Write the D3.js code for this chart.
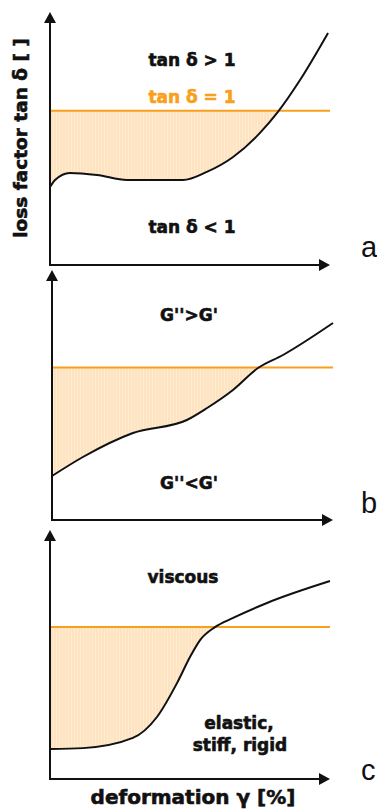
<!DOCTYPE html>
<html>
<head>
<meta charset="utf-8">
<script src="https://cdn.jsdelivr.net/npm/d3@7"></script>
<style>
  html, body { margin: 0; padding: 0; background: #fff; }
  svg { display: block; }
</style>
</head>
<body>
<div id="chart"></div>
<script>
// ---------- data ----------
const panelIds = ["a", "b", "c"];
const thresholdValue = 61;           // tan δ = 1 level (relative units)
const curveA = [[0,30.8],[1.8,33.6],[7.1,36.4],[16.8,35.6],[27.5,33.6],[47.5,33.6],[56,36.8],[65.4,42.7],[75,52.2],[81.4,60.5],[89.3,73.1],[99.3,91.7]];
const curveB = [[0,17.6],[11,25.2],[28.8,34.8],[48,40],[55.2,44.8],[64.4,52],[73.3,60.8],[82.2,66],[100,78.8]];
const curveC = [[0,12],[11.8,12.4],[29.6,16.5],[38.2,24.9],[45.4,38.6],[50,49],[53.6,55.8],[58.9,61],[65.4,64.7],[77.5,70.7],[100,79.5]];
const upperTexts = ["tan δ > 1", "G''>G'", "viscous"];
const lowerTexts = [["tan δ < 1"], ["G''<G'"], ["elastic,", "stiff, rigid"]];
const thresholdText = "tan δ = 1";
const yAxisTitle = "loss factor tan δ [ ]";
const xAxisTitle = "deformation γ [%]";

// ---------- layout ----------
const W = 377, H = 810;
const layouts = [
  {left: 50, right: 330, top: 12,  bottom: 265, upperY: 66,  lowerY: [233], lowerX: [192], upperX: 192, labelY: 257},
  {left: 52, right: 333, top: 270, bottom: 520, upperY: 321, lowerY: [489], lowerX: [189], upperX: 189, labelY: 513},
  {left: 50, right: 330, top: 530, bottom: 779, upperY: 583, lowerY: [729, 751], lowerX: [239, 240], upperX: 183, labelY: 780}
];
const curves = [curveA, curveB, curveC];

const ORANGE = "#f8a01c";
const INK = "#111";
const FONT = "'DejaVu Sans', Verdana, sans-serif";

const svg = d3.select("#chart").append("svg")
  .attr("width", W).attr("height", H)
  .attr("viewBox", `0 0 ${W} ${H}`);

const defs = svg.append("defs");
const pat = defs.append("pattern").attr("id", "stripes")
  .attr("patternUnits", "userSpaceOnUse").attr("width", 3).attr("height", 10);
pat.append("rect").attr("width", 3).attr("height", 10).attr("fill", "#fde3c0");
pat.append("rect").attr("x", 2).attr("width", 1).attr("height", 10).attr("fill", "#feebd2");

function arrowUp(g, x, y) {
  g.append("path").attr("d", `M${x},${y} L${x-6},${y+11} L${x+6},${y+11} Z`).attr("fill", INK);
}
function arrowRight(g, x, y) {
  g.append("path").attr("d", `M${x},${y} L${x-11},${y-6} L${x-11},${y+6} Z`).attr("fill", INK);
}
function boldText(sel, size, color) {
  return sel.attr("font-family", FONT).attr("font-weight", "bold").attr("font-size", size)
    .attr("fill", color).attr("stroke", color).attr("stroke-width", 0.6);
}

layouts.forEach((L, i) => {
  const x = d3.scaleLinear().domain([0, 100]).range([L.left, L.right]);
  const y = d3.scaleLinear().domain([0, 100]).range([L.bottom, L.top]);
  const g = svg.append("g");
  const data = curves[i];
  const ty = y(thresholdValue);

  const clipId = "clip" + i;
  defs.append("clipPath").attr("id", clipId)
    .append("rect").attr("x", x(0)).attr("y", ty)
    .attr("width", x(100) - x(0)).attr("height", L.bottom - ty);

  const area = d3.area()
    .x(d => x(d[0]))
    .y0(ty)
    .y1(d => y(d[1]))
    .curve(d3.curveMonotoneX);
  g.append("path").datum(data)
    .attr("d", area)
    .attr("fill", "url(#stripes)")
    .attr("clip-path", `url(#${clipId})`);

  g.append("line")
    .attr("x1", x(0)).attr("x2", x(100))
    .attr("y1", ty).attr("y2", ty)
    .attr("stroke", ORANGE).attr("stroke-width", 2);

  const line = d3.line().x(d => x(d[0])).y(d => y(d[1])).curve(d3.curveMonotoneX);
  g.append("path").datum(data)
    .attr("d", line)
    .attr("fill", "none")
    .attr("stroke", INK)
    .attr("stroke-width", 2);

  g.append("line").attr("x1", x(0)).attr("x2", x(0))
    .attr("y1", y(0) + 1).attr("y2", y(100) + 8)
    .attr("stroke", INK).attr("stroke-width", 2);
  arrowUp(g, x(0), y(100));
  g.append("line").attr("x1", x(0) - 1).attr("x2", x(100) - 8)
    .attr("y1", y(0)).attr("y2", y(0))
    .attr("stroke", INK).attr("stroke-width", 2);
  arrowRight(g, x(100), y(0));

  boldText(g.append("text").attr("x", L.upperX).attr("y", L.upperY)
    .attr("text-anchor", "middle"), 17, INK).text(upperTexts[i]);
  lowerTexts[i].forEach((t, k) => {
    boldText(g.append("text").attr("x", L.lowerX[k]).attr("y", L.lowerY[k])
      .attr("text-anchor", "middle"), 17, INK).text(t);
  });
  if (i === 0) {
    boldText(g.append("text").attr("x", L.upperX).attr("y", 103)
      .attr("text-anchor", "middle"), 17, ORANGE).text(thresholdText);
  }

  svg.append("text").attr("x", 361).attr("y", L.labelY)
    .attr("font-family", "'Liberation Sans', Arial, sans-serif")
    .attr("font-size", 29).attr("fill", INK).text(panelIds[i]);
});

boldText(svg.append("text")
  .attr("transform", "translate(27,138) rotate(-90)")
  .attr("text-anchor", "middle"), 18.5, INK).text(yAxisTitle);
boldText(svg.append("text")
  .attr("x", 193).attr("y", 804)
  .attr("text-anchor", "middle"), 20, INK).text(xAxisTitle);
</script>
</body>
</html>
